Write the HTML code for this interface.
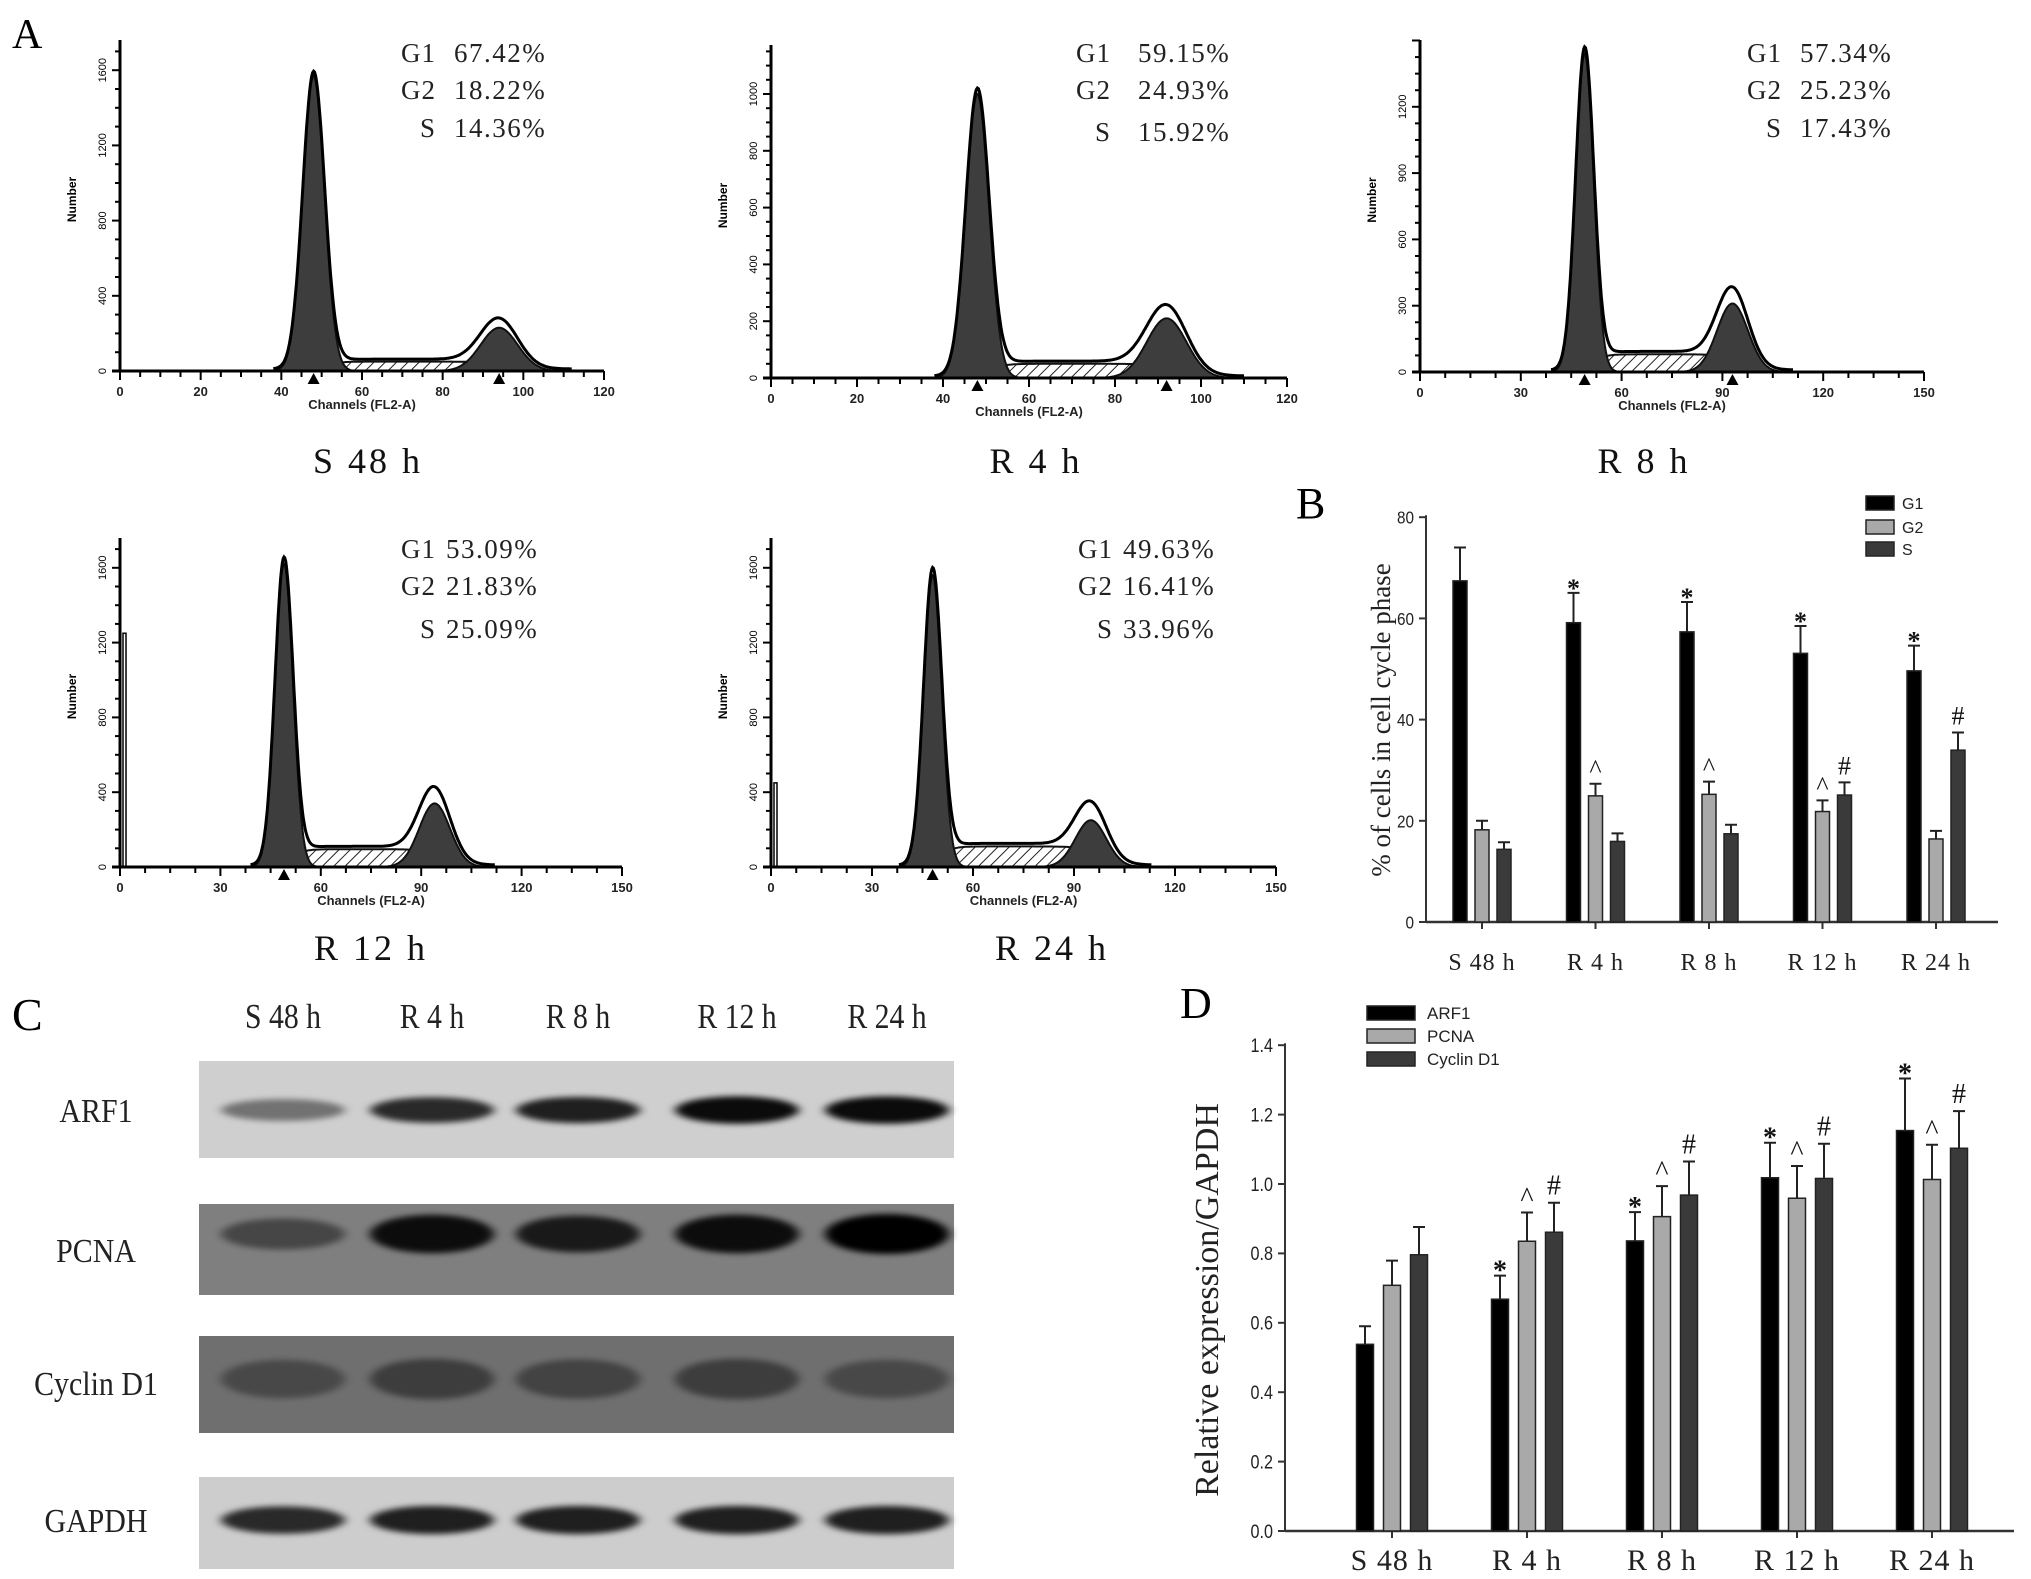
<!DOCTYPE html>
<html><head><meta charset="utf-8"><title>Cell cycle figure</title>
<style>
html,body{margin:0;padding:0;background:#fff;}
svg{display:block;}
.serif{font-family:"Liberation Serif",serif;}
.sans{font-family:"Liberation Sans",sans-serif;}
</style></head>
<body>
<svg id="fig" width="2031" height="1579" viewBox="0 0 2031 1579" xmlns="http://www.w3.org/2000/svg">
<defs>
<pattern id="hatch" width="8" height="8" patternUnits="userSpaceOnUse" patternTransform="rotate(45)">
<rect width="8" height="8" fill="#fff"/><line x1="0" y1="0" x2="0" y2="8" stroke="#222" stroke-width="2"/>
</pattern>
<filter id="blur" x="-20%" y="-100%" width="140%" height="300%"><feGaussianBlur stdDeviation="5 3"/></filter>
</defs>
<g id="panelA"></g>
<g id="panelB"></g>
<g id="panelC"></g>
<g id="panelD"></g>
</svg>
<script>
// ---------- Panel A data ----------
const histLabels = ['S 48 h','R 4 h','R 8 h','R 12 h','R 24 h'];
const g1Pct = ['67.42%','59.15%','57.34%','53.09%','49.63%'];
const g2Pct = ['18.22%','24.93%','25.23%','21.83%','16.41%'];
const sPct  = ['14.36%','15.92%','17.43%','25.09%','33.96%'];
const g1PeakPos = [48, 48, 49, 49, 48];
const g1PeakHeight = [1570, 1000, 1440, 1620, 1560];
const g2PeakPos = [94, 92, 93, 94, 95];
const g2PeakHeight = [230, 210, 310, 340, 250];
const sPlateau = [50, 50, 80, 95, 110];
const xMaxCh = [120, 120, 150, 150, 150];
const xTickStep = [20, 20, 30, 30, 30];
const yTickStep = [400, 200, 300, 400, 400];
const yTickTop = [1600, 1000, 1200, 1600, 1600];
const showG2Marker = [1, 1, 1, 0, 0];
const debrisSpike = [0, 0, 0, 1250, 450];

// ---------- Panel B data ----------
const bCategories = ['S 48 h','R 4 h','R 8 h','R 12 h','R 24 h'];
const bSeriesNames = ['G1','G2','S'];
const bG1 = [67.42, 59.15, 57.34, 53.09, 49.63];
const bG2 = [18.22, 24.93, 25.23, 21.83, 16.41];
const bS  = [14.36, 15.92, 17.43, 25.09, 33.96];
const bG1Err = [6.6, 5.9, 5.9, 5.4, 5.0];
const bG2Err = [1.8, 2.4, 2.5, 2.2, 1.6];
const bSErr  = [1.4, 1.6, 1.8, 2.5, 3.5];
const bG1Mark = ['', '*', '*', '*', '*'];
const bG2Mark = ['', '^', '^', '^', ''];
const bSMark  = ['', '', '', '#', '#'];
const bYTicks = [0, 20, 40, 60, 80];

// ---------- Panel D data ----------
const dCategories = ['S 48 h','R 4 h','R 8 h','R 12 h','R 24 h'];
const dSeriesNames = ['ARF1','PCNA','Cyclin D1'];
const dARF1 = [0.538, 0.668, 0.836, 1.018, 1.154];
const dPCNA = [0.708, 0.835, 0.906, 0.959, 1.013];
const dCyc  = [0.796, 0.861, 0.968, 1.016, 1.103];
const dARF1Err = [0.052, 0.068, 0.083, 0.101, 0.150];
const dPCNAErr = [0.071, 0.083, 0.088, 0.093, 0.100];
const dCycErr  = [0.080, 0.085, 0.097, 0.100, 0.107];
const dARF1Mark = ['', '*', '*', '*', '*'];
const dPCNAMark = ['', '^', '^', '^', '^'];
const dCycMark  = ['', '#', '#', '#', '#'];
const dYTicks = [0.0, 0.2, 0.4, 0.6, 0.8, 1.0, 1.2, 1.4];

// ---------- Panel C data ----------
const blotLanes = ['S 48 h','R 4 h','R 8 h','R 12 h','R 24 h'];
const blotRows = ['ARF1','PCNA','Cyclin D1','GAPDH'];
const arf1Band = [0.45, 0.8, 0.85, 0.95, 0.95];
const pcnaBand = [0.45, 0.9, 0.8, 0.9, 1.0];
const cycBand = [0.35, 0.45, 0.4, 0.45, 0.35];
const gapdhBand = [0.8, 0.85, 0.85, 0.85, 0.85];

const NS = 'http://www.w3.org/2000/svg';
function mk(parent, tag, attrs, text){
  const e = document.createElementNS(NS, tag);
  for (const k in attrs) e.setAttribute(k, attrs[k]);
  if (text !== undefined) e.textContent = text;
  parent.appendChild(e);
  return e;
}

// ================= Panel A =================
const A = document.getElementById('panelA');
const aLayout = [
  {ox:120, by:371, xe:604, ppu:0.188, top:40, labEnd:436, valX:454, rows:[62,99,137], lx:368, ly:473},
  {ox:771, by:378, xe:1287, ppu:0.284, top:45, labEnd:1111, valX:1138, rows:[62,99,141], lx:1036, ly:473},
  {ox:1420, by:372, xe:1924, ppu:0.221, top:40, labEnd:1782, valX:1800, rows:[62,99,137], lx:1644, ly:473},
  {ox:120, by:867, xe:622, ppu:0.187, top:538, labEnd:436, valX:446, rows:[558,595,638], lx:371, ly:960},
  {ox:771, by:867, xe:1276, ppu:0.187, top:538, labEnd:1113, valX:1123, rows:[558,595,638], lx:1052, ly:960}
];
let t = mk(A,'text',{x:12,y:48,'font-size':42,class:'serif'},'A');



function gauss(x,m,s){return Math.exp(-0.5*((x-m)/s)*((x-m)/s));}
function sig(z){return 1/(1+Math.exp(-z));}

for (let i=0;i<5;i++){
  const L = aLayout[i];
  const g = mk(A,'g',{});
  
  
  const xs = ch => L.ox + ch/xMaxCh[i]*(L.xe-L.ox);
  const ys = v => L.by - v*L.ppu;
  const g1 = x => g1PeakHeight[i]*gauss(x,g1PeakPos[i],2.7);
  const g2 = x => g2PeakHeight[i]*gauss(x,g2PeakPos[i],4.6);
  const sc = x => sPlateau[i]*sig((x-g1PeakPos[i]-2)/2)*sig((g2PeakPos[i]+4-x)/3);
  function areaPath(fn, a, b){
    let d = 'M'+xs(a)+','+ys(0);
    for (let x=a;x<=b;x+=0.25) d += 'L'+xs(x).toFixed(1)+','+ys(fn(x)).toFixed(1);
    d += 'L'+xs(b)+','+ys(0)+'Z';
    return d;
  }
  let p = mk(g,'path',{d:areaPath(sc,g1PeakPos[i]-10,g2PeakPos[i]+16),fill:'url(#hatch)',stroke:'#111','stroke-width':2});
  
  
  p = mk(g,'path',{d:areaPath(g1,g1PeakPos[i]-10,g1PeakPos[i]+10),fill:'#3d3d3d',stroke:'#111','stroke-width':2});
  
  
  p = mk(g,'path',{d:areaPath(g2,g2PeakPos[i]-16,g2PeakPos[i]+16),fill:'#3d3d3d',stroke:'#111','stroke-width':2});
  
  
  let d='';
  for (let x=g1PeakPos[i]-10;x<=g2PeakPos[i]+18;x+=0.25){
    const v = g1(x)+g2(x)+sc(x)*1.05;
    d += (d?'L':'M')+xs(x).toFixed(1)+','+(ys(v)-2).toFixed(1);
  }
  p = mk(g,'path',{d:d,fill:'none',stroke:'#000','stroke-width':3});
  
  
  if (debrisSpike[i]){
    p = mk(g,'path',{d:'M'+(L.ox+3)+','+L.by+'V'+ys(debrisSpike[i])+'H'+(L.ox+6)+'V'+L.by,fill:'none',stroke:'#000','stroke-width':1.5});
    
    
  }
  p = mk(g,'line',{x1:L.ox,y1:L.top,x2:L.ox,y2:L.by,stroke:'#000','stroke-width':3});
  
  
  p = mk(g,'line',{x1:L.ox-8,y1:L.by,x2:L.xe,y2:L.by,stroke:'#000','stroke-width':3});
  
  
  const minorY = yTickStep[i]/4;
  for (let v=0; ys(v)>=L.top; v+=minorY){
    const major = Math.abs(v % yTickStep[i])<1e-6;
    mk(g,'line',{x1:L.ox-(major?8:5),y1:ys(v),x2:L.ox,y2:ys(v),stroke:'#000','stroke-width':2});
    if (major && v<=yTickTop[i]){
      const tl = mk(g,'text',{x:0,y:0,'font-size':11,class:'sans','text-anchor':'middle',transform:'translate('+(L.ox-14)+','+ys(v)+') rotate(-90)'},String(v));
      
      
    }
  }
  const minorX = xTickStep[i]/4;
  for (let c=0;c<=xMaxCh[i]+0.01;c+=minorX){
    const major = Math.abs(c % xTickStep[i])<1e-6;
    mk(g,'line',{x1:xs(c),y1:L.by,x2:xs(c),y2:L.by+(major?9:6),stroke:'#000','stroke-width':2});
    if (major){
      const tl = mk(g,'text',{x:xs(c),y:L.by+25,'font-size':13,'font-weight':'bold',class:'sans','text-anchor':'middle',fill:'#222'},String(c));
      
      
    }
  }
  const markers = showG2Marker[i] ? [g1PeakPos[i], g2PeakPos[i]] : [g1PeakPos[i]];
  markers.forEach(c=>{
    const m = mk(g,'path',{d:'M'+(xs(c)-6)+','+(L.by+13)+'L'+xs(c)+','+(L.by+2)+'L'+(xs(c)+6)+','+(L.by+13)+'Z',fill:'#000'});
    
    
  });
  let tt = mk(g,'text',{x:(L.ox+L.xe)/2,y:L.by+38,'font-size':13,'font-weight':'bold',class:'sans','text-anchor':'middle',fill:'#222'},'Channels (FL2-A)');
  
  
  tt = mk(g,'text',{x:0,y:0,'font-size':12,'font-weight':'bold',class:'sans','text-anchor':'middle',transform:'translate('+(L.ox-44)+','+((L.top+L.by)/2-6)+') rotate(-90)'},'Number');
  
  
  const labs=['G1','G2','S'], vals=[g1Pct[i],g2Pct[i],sPct[i]];
  for (let r=0;r<3;r++){
    const a = mk(g,'text',{x:L.labEnd,y:L.rows[r],'font-size':27,class:'serif','text-anchor':'end',fill:'#222','letter-spacing':1},labs[r]);
    
    
    const b = mk(g,'text',{x:L.valX,y:L.rows[r],'font-size':27,class:'serif',fill:'#222','letter-spacing':1.5},vals[r]);
    
    
  }
  const cap = mk(g,'text',{x:L.lx,y:L.ly,'font-size':36,class:'serif','text-anchor':'middle','letter-spacing':3,fill:'#111'},histLabels[i]);
  
  
}

// ================= Generic bar chart =================
function barChart(root, cfg){
  const {ox, by, xe, ppu, g0, gs, off, bw, cats, series, errs, marks, colors, yTicks, fmt, tickFont, catFont, catY, markFont} = cfg;
  const xs = i => g0 + i*gs;
  const ys = v => by - v*ppu;
  let e = mk(root,'line',{x1:ox,y1:ys(yTicks[yTicks.length-1])-2,x2:ox,y2:by,stroke:'#333','stroke-width':2});
  
  
  e = mk(root,'line',{x1:ox,y1:by,x2:xe,y2:by,stroke:'#333','stroke-width':2.5});
  
  
  yTicks.forEach(v=>{
    mk(root,'line',{x1:ox-7,y1:ys(v),x2:ox,y2:ys(v),stroke:'#333','stroke-width':2});
    const tl = mk(root,'text',{x:ox-12,y:ys(v)+tickFont*0.36,'font-size':tickFont,class:'sans','text-anchor':'end',fill:'#222',transform:'translate('+(ox-12)+',0) scale(0.85,1) translate('+(-(ox-12))+',0)'},fmt(v));
    
    
  });
  cats.forEach((c,i)=>{
    mk(root,'line',{x1:xs(i),y1:by,x2:xs(i),y2:by+7,stroke:'#333','stroke-width':2});
    const tl = mk(root,'text',{x:xs(i),y:catY,'font-size':catFont,class:'serif','text-anchor':'middle',fill:'#222','letter-spacing':1},c);
    
    
  });
  series.forEach((vals,s)=>{
    vals.forEach((v,i)=>{
      const cx = xs(i)+off[s];
      const r = mk(root,'rect',{x:cx-bw/2,y:ys(v),width:bw,height:by-ys(v),fill:colors[s],stroke:'#222','stroke-width':1.5});
      
      
      const top = ys(v+errs[s][i]);
      const eb = mk(root,'path',{d:'M'+cx+','+ys(v)+'V'+top+'M'+(cx-6)+','+top+'H'+(cx+6),stroke:'#222','stroke-width':2,fill:'none'});
      
      
      if (marks[s][i]){
        const m = marks[s][i];
        const my = m==='*' ? top-4 : (m==='^' ? top-6 : top-8);
        const mt = mk(root,'text',{x:cx,y:my+(m==='*'?8:0),'font-size':markFont,class:'serif','text-anchor':'middle','font-weight':m==='*'?'bold':'normal',fill:'#111'},m);
        
        
      }
    });
  });
  return {xs, ys};
}

// ================= Panel B =================
const B = document.getElementById('panelB');
t = mk(B,'text',{x:1296,y:518,'font-size':44,class:'serif'},'B');


barChart(B,{ox:1426, by:922, xe:1998, ppu:5.06, g0:1482, gs:113.5, off:[-22,0,22], bw:14,
  cats:bCategories, series:[bG1,bG2,bS], errs:[bG1Err,bG2Err,bSErr], marks:[bG1Mark,bG2Mark,bSMark],
  colors:['#000','#a9a9a9','#3a3a3a'], yTicks:bYTicks, fmt:v=>String(v), tickFont:18, catFont:24, catY:970, markFont:26});
t = mk(B,'text',{x:0,y:0,'font-size':27,class:'serif','text-anchor':'middle',fill:'#222',transform:'translate(1390,720) rotate(-90)'},'% of cells in cell cycle phase');


const bLegY=[503,527,549], bLegC=['#000','#a9a9a9','#3a3a3a'];
bSeriesNames.forEach((n,s)=>{
  const r = mk(B,'rect',{x:1866,y:bLegY[s]-7,width:28,height:14,fill:bLegC[s],stroke:'#222','stroke-width':1.5});
  
  
  const tx = mk(B,'text',{x:1902,y:bLegY[s]+6,'font-size':16,class:'sans',fill:'#222'},n);
  
  
});

// ================= Panel D =================
const D = document.getElementById('panelD');
t = mk(D,'text',{x:1180,y:1018,'font-size':44,class:'serif'},'D');


barChart(D,{ox:1285, by:1531, xe:2014, ppu:347, g0:1392, gs:135, off:[-27,0,27], bw:17,
  cats:dCategories, series:[dARF1,dPCNA,dCyc], errs:[dARF1Err,dPCNAErr,dCycErr], marks:[dARF1Mark,dPCNAMark,dCycMark],
  colors:['#000','#a9a9a9','#3a3a3a'], yTicks:dYTicks, fmt:v=>v.toFixed(1), tickFont:19, catFont:30, catY:1570, markFont:28});
t = mk(D,'text',{x:0,y:0,'font-size':34,class:'serif','text-anchor':'middle',fill:'#222',transform:'translate(1218,1300) rotate(-90)'},'Relative expression/GAPDH');


const dLegY=[1013,1036,1059];
dSeriesNames.forEach((n,s)=>{
  const r = mk(D,'rect',{x:1367,y:dLegY[s]-7,width:48,height:14,fill:bLegC[s],stroke:'#222','stroke-width':1.5});
  
  
  const tx = mk(D,'text',{x:1427,y:dLegY[s]+6,'font-size':17,class:'sans',fill:'#222'},n);
  
  
});

// ================= Panel C =================
const C = document.getElementById('panelC');
t = mk(C,'text',{x:12,y:1030,'font-size':46,class:'serif'},'C');


const laneX = [283, 432, 578, 737, 887];
blotLanes.forEach((l,i)=>{
  const tx = mk(C,'text',{x:laneX[i],y:1028,'font-size':35,class:'serif','text-anchor':'middle',fill:'#222',transform:'translate('+laneX[i]+',0) scale(0.85,1) translate('+(-laneX[i])+',0)'},l);
  
  
});
const rowBox = [[1061,1158],[1204,1295],[1336,1433],[1477,1569]];
const rowBg = ['#cfcfcf','#7f7f7f','#6f6f6f','#cdcdcd'];
const rowBandY = [1110,1234,1379,1520];
const rowBandH = [14,20,26,15];
const rowLabY = [1122,1262,1395,1532];
const rowBands = [arf1Band, pcnaBand, cycBand, gapdhBand];
blotRows.forEach((name,r)=>{
  const g = mk(C,'g',{});
  
  
  mk(g,'rect',{x:199,y:rowBox[r][0],width:755,height:rowBox[r][1]-rowBox[r][0],fill:rowBg[r]});
  rowBands[r].forEach((v,i)=>{
    const b = mk(g,'ellipse',{cx:laneX[i],cy:rowBandY[r],rx:62,ry:rowBandH[r]*(0.6+0.4*v),fill:'#000','fill-opacity':v,filter:'url(#blur)'});
    
    
  });
  const lab = mk(C,'text',{x:96,y:rowLabY[r],'font-size':34,class:'serif','text-anchor':'middle',fill:'#222',transform:'translate(96,0) scale(0.88,1) translate(-96,0)'},name);
  
  
});
</script>
</body></html>
